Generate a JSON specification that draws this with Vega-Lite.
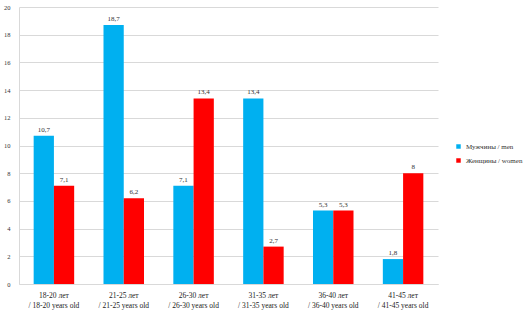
{
  "$schema": "https://vega.github.io/schema/vega-lite/v6.json",
  "width": 419,
  "height": 277,
  "autosize": "none",
  "padding": {"left": 19, "top": 7, "right": 93, "bottom": 27},
  "background": "white",
  "config": {
    "font": "Liberation Serif",
    "view": {"stroke": null},
    "locale": {"number": {"decimal": ",", "thousands": " ", "grouping": [3], "currency": ["", ""]}}
  },
  "data": {
    "values": [
      {"age": "18-20 лет|/ 18-20 years old", "sex": "Мужчины / men", "v": 10.7},
      {"age": "18-20 лет|/ 18-20 years old", "sex": "Женщины / women", "v": 7.1},
      {"age": "21-25 лет|/ 21-25 years old", "sex": "Мужчины / men", "v": 18.7},
      {"age": "21-25 лет|/ 21-25 years old", "sex": "Женщины / women", "v": 6.2},
      {"age": "26-30 лет|/ 26-30 years old", "sex": "Мужчины / men", "v": 7.1},
      {"age": "26-30 лет|/ 26-30 years old", "sex": "Женщины / women", "v": 13.4},
      {"age": "31-35 лет|/ 31-35 years old", "sex": "Мужчины / men", "v": 13.4},
      {"age": "31-35 лет|/ 31-35 years old", "sex": "Женщины / women", "v": 2.7},
      {"age": "36-40 лет|/ 36-40 years old", "sex": "Мужчины / men", "v": 5.3},
      {"age": "36-40 лет|/ 36-40 years old", "sex": "Женщины / women", "v": 5.3},
      {"age": "41-45 лет|/ 41-45 years old", "sex": "Мужчины / men", "v": 1.8},
      {"age": "41-45 лет|/ 41-45 years old", "sex": "Женщины / women", "v": 8}
    ]
  },
  "encoding": {
    "x": {
      "field": "age", "type": "nominal", "sort": null,
      "scale": {"paddingInner": 0.42, "paddingOuter": 0.21},
      "axis": {
        "title": null, "labelAngle": 0, "labelExpr": "split(datum.label, '|')",
        "labelFontSize": 7.5, "labelColor": "#222", "ticks": false,
        "domainColor": "#d9d9d9", "labelPadding": 7, "labelLineHeight": 10
      }
    },
    "xOffset": {"field": "sex", "type": "nominal", "sort": ["Мужчины / men", "Женщины / women"]},
    "y": {
      "field": "v", "type": "quantitative",
      "scale": {"domain": [0, 20]},
      "axis": {
        "title": null, "values": [0, 2, 4, 6, 8, 10, 12, 14, 16, 18, 20],
        "labelOverlap": false, "labelFontSize": 6.5, "labelColor": "#333", "ticks": false,
        "domainColor": "#d9d9d9", "gridColor": "#d9d9d9", "labelPadding": 9
      }
    }
  },
  "layer": [
    {
      "mark": {"type": "bar"},
      "encoding": {
        "color": {
          "field": "sex", "type": "nominal",
          "scale": {"domain": ["Мужчины / men", "Женщины / women"], "range": ["#00B0F0", "#FF0000"]},
          "legend": {
            "title": null, "orient": "none", "legendX": 436, "legendY": 136,
            "symbolType": "square", "symbolSize": 20, "labelFontSize": 7,
            "labelColor": "#333", "rowPadding": 6, "labelFont": "Liberation Serif"
          }
        }
      }
    },
    {
      "mark": {"type": "text", "dy": -6, "fontSize": 7, "color": "#333"},
      "encoding": {
        "text": {"field": "v", "type": "quantitative", "format": "~r"}
      }
    }
  ]
}
